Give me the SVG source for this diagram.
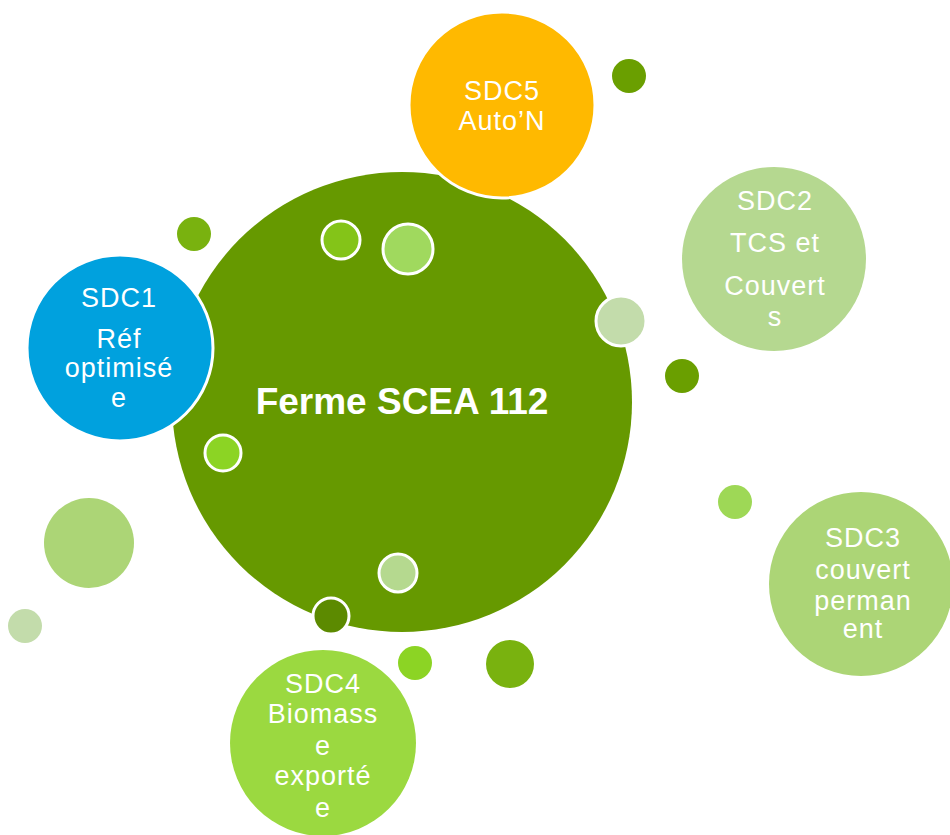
<svg xmlns="http://www.w3.org/2000/svg" width="950" height="835" viewBox="0 0 950 835">
  <style>
    .lbl { font-family: "Liberation Sans", Arial, sans-serif; font-size: 27px; letter-spacing: 1px; fill: #ffffff; text-anchor: middle; }
    .title { font-family: "Liberation Sans", Arial, sans-serif; font-size: 37px; font-weight: bold; fill: #ffffff; text-anchor: middle; }
    .ring { stroke: #ffffff; stroke-width: 3; }
  </style>
  <rect width="950" height="835" fill="#ffffff"/>

  <!-- connectors: none drawn, decorative bubbles only -->
  <g id="connectors"/>

  <!-- central farm -->
  <g id="ferme">
    <circle cx="402" cy="402" r="230" fill="#669900"/>
    <text class="title" x="402" y="414">Ferme SCEA 112</text>
  </g>

  <!-- SDC5 -->
  <g id="sdc5">
    <circle class="ring" cx="502" cy="105" r="93" fill="#ffb900"/>
    <text class="lbl" x="502" y="100">SDC5</text>
    <text class="lbl" x="502" y="130">Auto’N</text>
  </g>

  <!-- SDC1 -->
  <g id="sdc1">
    <circle class="ring" cx="120" cy="348" r="93" fill="#00a1de"/>
    <text class="lbl" x="119" y="307">SDC1</text>
    <text class="lbl" x="119" y="348">Réf</text>
    <text class="lbl" x="119" y="377">optimisé</text>
    <text class="lbl" x="119" y="407">e</text>
  </g>

  <!-- SDC2 -->
  <g id="sdc2">
    <circle cx="774" cy="259" r="92" fill="#b5d890"/>
    <text class="lbl" x="775" y="210">SDC2</text>
    <text class="lbl" x="775" y="252">TCS et</text>
    <text class="lbl" x="775" y="295">Couvert</text>
    <text class="lbl" x="775" y="326">s</text>
  </g>

  <!-- SDC3 -->
  <g id="sdc3">
    <circle cx="861" cy="584" r="92" fill="#acd576"/>
    <text class="lbl" x="863" y="547">SDC3</text>
    <text class="lbl" x="863" y="579">couvert</text>
    <text class="lbl" x="863" y="610">perman</text>
    <text class="lbl" x="863" y="638">ent</text>
  </g>

  <!-- SDC4 -->
  <g id="sdc4">
    <circle cx="323" cy="743" r="93" fill="#9bd940"/>
    <text class="lbl" x="323" y="693">SDC4</text>
    <text class="lbl" x="323" y="723">Biomass</text>
    <text class="lbl" x="323" y="755">e</text>
    <text class="lbl" x="323" y="785">exporté</text>
    <text class="lbl" x="323" y="817">e</text>
  </g>

  <!-- decorative bubbles -->
  <g id="bubbles">
    <circle cx="629" cy="76" r="17" fill="#6a9f00"/>
    <circle cx="194" cy="234" r="17" fill="#79b20f"/>
    <circle class="ring" cx="341" cy="240" r="19" fill="#84c418"/>
    <circle class="ring" cx="408" cy="249" r="25" fill="#a0d95e"/>
    <circle class="ring" cx="621" cy="321" r="25" fill="#c3dcab"/>
    <circle cx="682" cy="376" r="17" fill="#6a9f00"/>
    <circle class="ring" cx="223" cy="453" r="18" fill="#8cd424"/>
    <circle cx="89" cy="543" r="45" fill="#acd576"/>
    <circle cx="25" cy="626" r="17" fill="#c3dcab"/>
    <circle cx="735" cy="502" r="17" fill="#9ed856"/>
    <circle class="ring" cx="398" cy="573" r="19" fill="#b5d98f"/>
    <circle class="ring" cx="331" cy="616" r="18" fill="#5c8a00"/>
    <circle cx="415" cy="663" r="17" fill="#8cd424"/>
    <circle cx="510" cy="664" r="24" fill="#79b20f"/>
  </g>
</svg>
